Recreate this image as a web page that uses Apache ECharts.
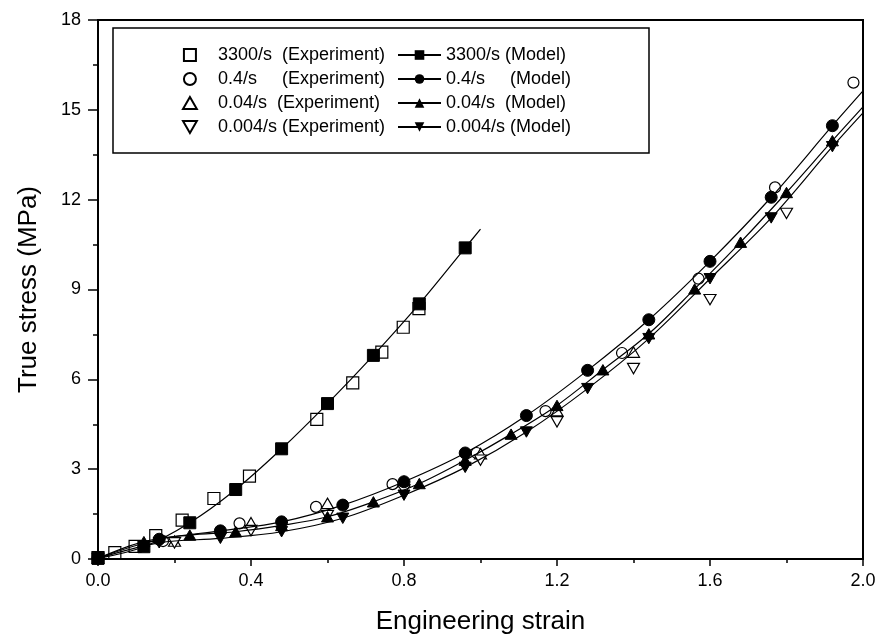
<!DOCTYPE html>
<html>
<head>
<meta charset="utf-8">
<script src="https://cdn.jsdelivr.net/npm/echarts@6/dist/echarts.min.js"></script>
<style>
  html, body { margin: 0; padding: 0; background: #fff; }
  #chart { width: 879px; height: 644px; }
</style>
</head>
<body>
<div id="chart"></div>
<script>
// x tick labels / y tick labels
const xTicks = [0, 0.4, 0.8, 1.2, 1.6, 2.0]
const yTicks = [0, 3, 6, 9, 12, 15, 18]

// 3300/s
const exp3300X = [0.0, 0.044, 0.097, 0.151, 0.22, 0.303, 0.396, 0.572, 0.666, 0.742, 0.798, 0.839]
const exp3300Y = [0.05, 0.21, 0.42, 0.78, 1.30, 2.02, 2.77, 4.66, 5.88, 6.91, 7.74, 8.36]
const mod3300X = [0, 0.12, 0.24, 0.36, 0.48, 0.60, 0.72, 0.84, 0.96, 1.0]
const mod3300Y = [0.02, 0.41, 1.21, 2.32, 3.68, 5.19, 6.80, 8.52, 10.39, 11.02]

// 0.4/s
const exp04X = [0.17, 0.37, 0.57, 0.77, 0.99, 1.17, 1.37, 1.57, 1.77, 1.975]
const exp04Y = [0.60, 1.19, 1.74, 2.50, 3.54, 4.94, 6.88, 9.36, 12.41, 15.91]
const mod04X = [0, 0.16, 0.32, 0.48, 0.64, 0.80, 0.96, 1.12, 1.28, 1.44, 1.60, 1.76, 1.92, 2.0]
const mod04Y = [0.03, 0.66, 0.94, 1.24, 1.80, 2.58, 3.54, 4.79, 6.30, 7.99, 9.94, 12.08, 14.47, 15.63]

// 0.04/s
const exp004X = [0.2, 0.4, 0.6, 0.8, 1.0, 1.2, 1.4]
const exp004Y = [0.60, 1.21, 1.86, 2.58, 3.52, 4.95, 6.91]
const mod004X = [0, 0.12, 0.24, 0.36, 0.48, 0.60, 0.72, 0.84, 0.96, 1.08, 1.20, 1.32, 1.44, 1.56, 1.68, 1.80, 1.92, 2.0]
const mod004Y = [0.02, 0.58, 0.80, 0.91, 1.12, 1.41, 1.91, 2.52, 3.30, 4.17, 5.13, 6.32, 7.52, 9.02, 10.58, 12.24, 13.97, 15.10]

// 0.004/s
const exp0004X = [0.2, 0.4, 0.6, 0.8, 1.0, 1.2, 1.4, 1.6, 1.8]
const exp0004Y = [0.54, 0.95, 1.45, 2.30, 3.30, 4.58, 6.36, 8.66, 11.54]
const mod0004X = [0, 0.16, 0.32, 0.48, 0.64, 0.80, 0.96, 1.12, 1.28, 1.44, 1.60, 1.76, 1.92, 2.0]
const mod0004Y = [0.02, 0.54, 0.69, 0.91, 1.36, 2.13, 3.06, 4.24, 5.69, 7.36, 9.36, 11.39, 13.77, 14.90]

const FONT = '"Liberation Sans", Arial, Helvetica, sans-serif'
// path symbols keep their aspect in the legend too
const SQUARE = 'path://M0,0L1,0L1,1L0,1Z'
const UP_TRIANGLE = 'path://M1,0L2,1.732L0,1.732Z'
const DOWN_TRIANGLE = 'path://M0,0L2,0L1,1.732Z'

const pairs = (xs, ys) => xs.map((x, i) => [x, ys[i]])
// model curves run on past the last marker to the end point
const modelData = (xs, ys) => xs.map((x, i) =>
  i === xs.length - 1 ? { value: [x, ys[i]], symbol: 'none' } : [x, ys[i]])

const expSeries = (name, symbol, xs, ys) => ({
  name,
  type: 'scatter',
  data: pairs(xs, ys),
  symbol,
  symbolSize: symbol === 'circle' ? 11 : 12,
  symbolKeepAspect: true,
  itemStyle: { color: '#fff', borderColor: '#000', borderWidth: 1.2, opacity: 1 },
  z: 2
})

const modelSeries = (name, symbol, xs, ys) => ({
  name,
  type: 'line',
  data: modelData(xs, ys),
  smooth: 0.35,
  symbol,
  symbolSize: 12,
  symbolKeepAspect: true,
  showAllSymbol: true,
  lineStyle: { color: '#000', width: 1.2 },
  itemStyle: { color: '#000', borderColor: '#000', opacity: 1 },
  emphasis: { disabled: true },
  z: 3
})

const chart = echarts.init(document.getElementById('chart'), null, { renderer: 'canvas' })

const legendBase = {
  orient: 'vertical',
  top: 45,
  itemHeight: 12,
  itemGap: 4,
  padding: 0,
  selectedMode: false,
  symbolKeepAspect: true,
  textStyle: { fontFamily: FONT, fontSize: 18, color: '#000', lineHeight: 20 }
}

chart.setOption({
  animation: false,
  backgroundColor: '#fff',
  grid: {
    left: 98, right: 16, top: 20, bottom: 85,
    show: true, borderColor: '#000', borderWidth: 2,
    containLabel: false
  },
  legend: [
    Object.assign({}, legendBase, {
      left: 182,
      itemWidth: 46,
      data: ['3300/s  (Experiment)', '0.4/s     (Experiment)', '0.04/s  (Experiment)', '0.004/s (Experiment)']
    }),
    Object.assign({}, legendBase, {
      left: 397,
      itemWidth: 43,
      data: ['3300/s (Model)', '0.4/s     (Model)', '0.04/s  (Model)', '0.004/s (Model)']
    })
  ],
  graphic: [{
    type: 'rect',
    shape: { x: 113, y: 28, width: 536, height: 125 },
    style: { fill: 'none', stroke: '#000', lineWidth: 1.5 },
    silent: true
  }],
  xAxis: {
    type: 'value',
    min: 0, max: 2.0, interval: 0.4,
    name: 'Engineering strain',
    nameLocation: 'middle',
    nameGap: 50,
    nameTextStyle: { fontFamily: FONT, fontSize: 26, color: '#000' },
    axisLine: { show: true, onZero: false, lineStyle: { color: '#000', width: 2 } },
    axisTick: { show: true, length: 7, lineStyle: { color: '#000', width: 1.5 } },
    minorTick: { show: true, splitNumber: 2, length: 4, lineStyle: { color: '#000', width: 1.5 } },
    axisLabel: {
      margin: 13, fontFamily: FONT, fontSize: 18, color: '#000',
      formatter: v => v.toFixed(1)
    },
    splitLine: { show: false }
  },
  yAxis: {
    type: 'value',
    min: 0, max: 18, interval: 3,
    name: 'True stress (MPa)',
    nameLocation: 'middle',
    nameGap: 56,
    nameTextStyle: { fontFamily: FONT, fontSize: 26, color: '#000' },
    axisLine: { show: true, onZero: false, lineStyle: { color: '#000', width: 2 } },
    axisTick: { show: true, length: 10, lineStyle: { color: '#000', width: 1.5 } },
    minorTick: { show: true, splitNumber: 2, length: 5, lineStyle: { color: '#000', width: 1.5 } },
    axisLabel: { margin: 17, fontFamily: FONT, fontSize: 18, color: '#000' },
    splitLine: { show: false }
  },
  series: [
    expSeries('3300/s  (Experiment)', SQUARE, exp3300X, exp3300Y),
    expSeries('0.4/s     (Experiment)', 'circle', exp04X, exp04Y),
    expSeries('0.04/s  (Experiment)', UP_TRIANGLE, exp004X, exp004Y),
    expSeries('0.004/s (Experiment)', DOWN_TRIANGLE, exp0004X, exp0004Y),
    modelSeries('3300/s (Model)', SQUARE, mod3300X, mod3300Y),
    modelSeries('0.4/s     (Model)', 'circle', mod04X, mod04Y),
    modelSeries('0.04/s  (Model)', UP_TRIANGLE, mod004X, mod004Y),
    modelSeries('0.004/s (Model)', DOWN_TRIANGLE, mod0004X, mod0004Y)
  ]
})
</script>
</body>
</html>
